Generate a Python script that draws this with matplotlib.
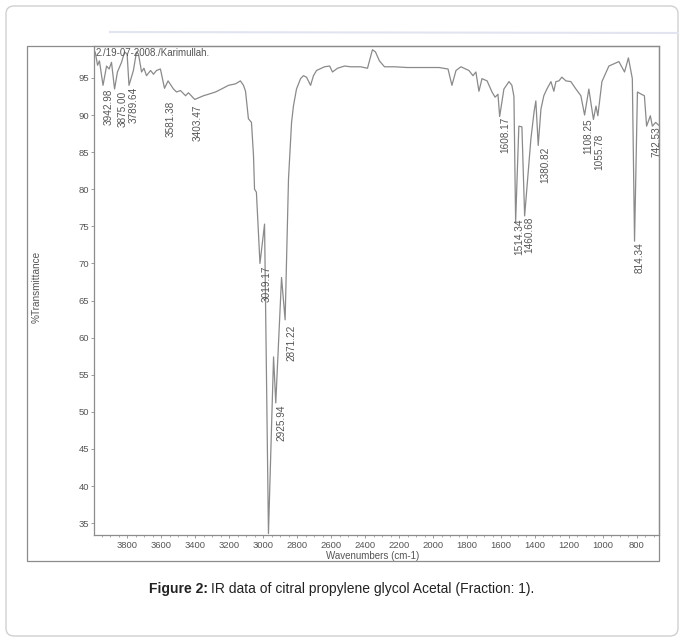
import numpy as np
import matplotlib.pyplot as plt
from matplotlib.patches import Rectangle, FancyBboxPatch
from matplotlib.lines import Line2D
from matplotlib.ticker import MultipleLocator

# IR spectrum
wavenumber = [4000, 3989, 3975, 3964, 3943, 3922, 3907, 3893, 3875, 3858,
              3834, 3816, 3801, 3790, 3764, 3746, 3734, 3716, 3702, 3687,
              3663, 3646, 3628, 3605, 3581, 3560, 3528, 3510, 3487, 3457,
              3440, 3403, 3351, 3322, 3281, 3246, 3204, 3163, 3134, 3116,
              3104, 3087, 3069, 3057, 3051, 3040, 3019, 2992, 2969, 2939,
              2926, 2892, 2871, 2851, 2833, 2822, 2804, 2780, 2763, 2745,
              2721, 2704, 2686, 2639, 2609, 2592, 2563, 2521, 2486, 2427,
              2386, 2357, 2339, 2316, 2286, 2227, 2151, 2050, 1965, 1912,
              1889, 1865, 1836, 1789, 1765, 1748, 1730, 1712, 1682, 1653,
              1635, 1618, 1608, 1583, 1553, 1536, 1524, 1514, 1495, 1477,
              1461, 1424, 1405, 1395, 1381, 1365, 1348, 1330, 1306, 1289,
              1277, 1259, 1242, 1218, 1189, 1159, 1130, 1108, 1083, 1056,
              1041, 1030, 1006, 965, 906, 873, 850, 827, 814, 797,
              774, 756, 743, 721, 709, 690, 670]
transmittance = [98.6, 98.5, 96.7, 97.3, 94.0, 96.6, 96.2, 97.1, 93.5, 95.8,
                 97.1, 98.5, 98.2, 94.0, 96.0, 98.5, 98.2, 95.8, 96.3, 95.3,
                 96.0, 95.5, 96.0, 96.2, 93.6, 94.6, 93.5, 93.1, 93.3, 92.6,
                 93.0, 92.1, 92.6, 92.8, 93.1, 93.5, 94.0, 94.2, 94.6, 94.0,
                 93.2, 89.5, 89.0, 84.5, 80.0, 79.6, 70.0, 75.3, 33.6, 57.4,
                 51.2, 68.1, 62.4, 81.4, 89.0, 91.2, 93.5, 94.9, 95.3, 95.1,
                 94.0, 95.3, 96.0, 96.5, 96.6, 95.8, 96.3, 96.6, 96.5, 96.5,
                 96.3, 98.8, 98.5, 97.3, 96.5, 96.5, 96.4, 96.4, 96.4, 96.2,
                 94.0, 96.0, 96.5, 96.0, 95.3, 95.8, 93.2, 94.9, 94.6, 93.1,
                 92.4, 92.8, 89.8, 93.5, 94.5, 94.0, 92.5, 75.6, 88.5, 88.4,
                 76.4, 86.8, 90.5, 91.9, 85.9, 90.8, 92.6, 93.5, 94.5, 93.2,
                 94.5, 94.6, 95.1, 94.6, 94.5, 93.5, 92.6, 90.0, 93.5, 89.4,
                 91.2, 89.9, 94.5, 96.6, 97.2, 95.8, 97.7, 94.9, 73.0, 93.1,
                 92.8, 92.6, 88.5, 89.9, 88.5, 89.0, 88.6]

peak_labels = ["3942.98", "3875.00", "3789.64", "3581.38", "3403.47",
               "3019.17", "2925.94", "2871.22", "1608.17", "1514.34",
               "1460.68", "1380.82", "1108.25", "1055.78", "814.34", "742.53"]

# label placement next to each peak (pixels right / down of the minimum)
label_dx = [6, 8, 5, 6, 3, 7, 6, 6, 6, 4, 5, 7, 4, 6, 5, 10]
label_dy = [3, 2, 2, 13, 5, 3, 2, 5, 1, 1, 1, 2, 4, 14, 5, 0]

x_ticks = list(range(3800, 799, -200))
y_ticks = list(range(35, 96, 5))

plt.rcParams['font.family'] = ['Liberation Sans', 'DejaVu Sans']

W, H = 683, 641
fig = plt.figure(figsize=(W / 100, H / 100), dpi=100)


def fx(px):
    return px / W


def fy(py):
    return 1 - py / H


gray = '#8c8c8c'
txt = '#555555'

# outer rounded border of the figure panel
fig.patches.append(FancyBboxPatch((fx(6), fy(636)), fx(672), 630 / H,
                                  boxstyle='round,pad=0,rounding_size=0.012',
                                  transform=fig.transFigure, fill=False,
                                  ec='#d0d0d0', lw=1))
# frame around the plot and its axis texts
fig.patches.append(Rectangle((fx(27), fy(561)), fx(659 - 27), (561 - 46) / H,
                             transform=fig.transFigure, fill=False,
                             ec=gray, lw=0.9))
# faint scan edge at the top
fig.add_artist(Line2D([fx(110), fx(678)], [fy(32), fy(33)],
                      color='#e2e4f0', lw=1.5))

ax = fig.add_axes([fx(94), fy(535), fx(659 - 94), (535 - 46) / H])
ax.plot(wavenumber, transmittance, color='#8a8a8a', lw=0.9)

ax.set_xlim(3996, 670)
ax.set_ylim(33.4, 99.3)
ax.set_xticks(x_ticks)
ax.set_yticks(y_ticks)
ax.xaxis.set_minor_locator(MultipleLocator(50))
ax.tick_params(axis='both', which='major', direction='out', length=2.5,
               width=0.6, color=gray, labelcolor=txt, labelsize=6.8)
ax.tick_params(axis='x', which='minor', direction='out', length=1.5,
               width=0.5, color=gray)
ax.tick_params(axis='x', pad=2)
ax.tick_params(axis='y', pad=1)
for s in ax.spines.values():
    s.set_color(gray)
    s.set_linewidth(0.9)

# peak labels
for lab, dx, dy in zip(peak_labels, label_dx, label_dy):
    w = float(lab)
    t = np.interp(w, wavenumber[::-1], transmittance[::-1])
    ax.annotate(lab, (w, t), xytext=(dx, -dy), textcoords='offset pixels',
                rotation=90, ha='center', va='top', fontsize=7.2,
                color=txt, annotation_clip=False, clip_on=True)

ax.text(fx(96), fy(53), '2./19-07-2008./Karimullah.', transform=fig.transFigure,
        ha='left', va='center', fontsize=7, color=txt)

fig.text(fx(373), fy(556), 'Wavenumbers (cm-1)', ha='center', va='center',
         fontsize=7, color=txt)
fig.text(fx(37), fy(287), '%Transmittance', ha='center', va='center',
         rotation=90, fontsize=7.2, color=txt)

# caption with bold lead-in
r = fig.canvas.get_renderer()
cap_y = fy(589)
t1 = fig.text(0, cap_y, 'Figure 2:', weight='bold', fontsize=10, color='#222222',
              va='center', ha='left')
t2 = fig.text(0, cap_y, 'IR data of citral propylene glycol Acetal (Fraction: 1).',
              fontsize=10, color='#222222', va='center', ha='left')
w1 = t1.get_window_extent(r).width
w2 = t2.get_window_extent(r).width
gap = 3
x0 = 342 - (w1 + gap + w2) / 2
t1.set_x(fx(x0))
t2.set_x(fx(x0 + w1 + gap))

fig.savefig('out.png', dpi=100)
